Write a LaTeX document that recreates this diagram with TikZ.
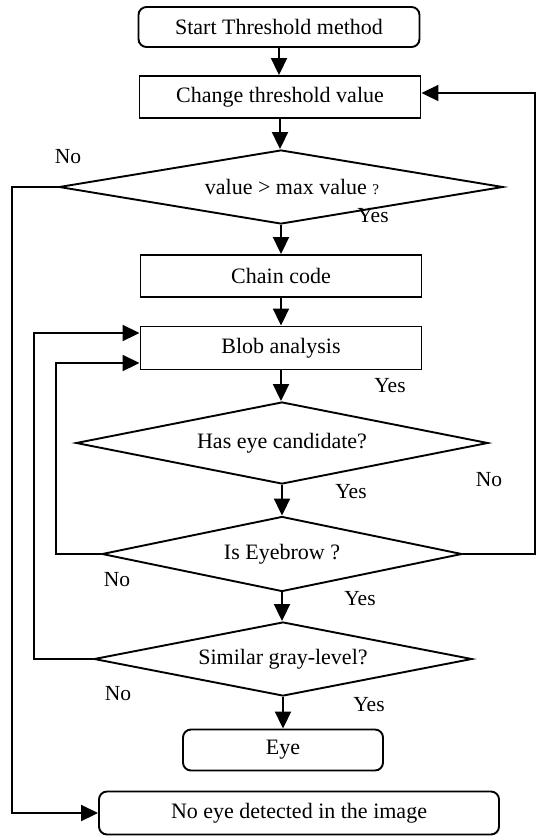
\documentclass[tikz,border=0pt]{standalone}
\usepackage{fontspec}
\setmainfont{Liberation Serif}
\usepackage{tikz}
\usetikzlibrary{shapes.geometric,arrows.meta}

\begin{document}
\begin{tikzpicture}[x=1pt,y=-1pt,
    line width=1.9pt,
    font=\fontsize{22}{26}\selectfont,
    stepbox/.style={draw, minimum width=281pt, minimum height=42pt, inner sep=0pt},
    endbox/.style={stepbox, rounded corners=8pt},
    decide/.style={draw, diamond, aspect=6, inner sep=0pt},
    lbl/.style={font=\fontsize{21.5}{24}\selectfont},
    arr/.style={-{Triangle[length=17pt,width=16pt]}}]
            \useasboundingbox (0,0) rectangle (536,836);
            % main column
            \node[endbox, minimum height=40pt] (start) at (279,27) {Start Threshold method};
            \node[stepbox] (change) at (280,97) {Change threshold value};
            \node[decide, minimum width=444pt, minimum height=74pt] (val) at (281,187) {\hspace{22pt}value > max value {\fontsize{15}{18}\selectfont ?}};
            \node[stepbox] (chain) at (281,276) {Chain code};
            \node[stepbox, minimum height=43pt] (blob) at (281,348) {Blob analysis};
            \node[decide, minimum width=412pt, minimum height=82pt] (cand) at (282,443) {Has eye candidate?};
            \node[decide, minimum width=360pt, minimum height=75pt] (brow) at (282,554) {Is Eyebrow ?};
            \node[decide, minimum width=378pt, minimum height=74pt] (gray) at (283,659) {Similar gray-level?};
            \node[endbox, minimum width=200pt, minimum height=41pt] (eye) at (283,750) {Eye};
            \node[endbox, minimum width=400pt, minimum height=43pt] (noeye) at (299,813) {No eye detected in the image};
            % labels
            \node[lbl] (no1) at (68,157) {No};
            \node[lbl] (yes1) at (373,216) {Yes};
            \node[lbl] (yes2) at (390,386) {Yes};
            \node[lbl] (no2) at (489,480) {No};
            \node[lbl] (yes3) at (351,492) {Yes};
            \node[lbl] (no3) at (117,580) {No};
            \node[lbl] (yes4) at (360,599) {Yes};
            \node[lbl] (no4) at (118,694) {No};
            \node[lbl] (yes5) at (369,705) {Yes};
            % flow
            \draw[arr] (start) -- (start |- change.north);
            \draw[arr] (change) -- (change |- val.north);
            \draw[arr] (val) -- (chain);
            \draw[arr] (chain) -- (blob);
            \draw[arr] (blob) -- (blob |- cand.north);
            \draw[arr] (cand) -- (brow);
            \draw[arr] (brow) -- (brow |- gray.north);
            \draw[arr] (gray) -- (eye);
            % loops back
            \draw[arr] (val.west) -- ++(-46,0) |- (noeye.west);
            \draw[arr] (brow.east) -- ++(72,0) |- ([yshift=4pt]change.east);
            \draw[arr] (brow.west) -- ++(-45,0) |- ([yshift=-15pt]blob.west);
            \draw[arr] (gray.west) -- ++(-59,0) |- ([yshift=15pt]blob.west);
        \end{tikzpicture}
\end{document}
